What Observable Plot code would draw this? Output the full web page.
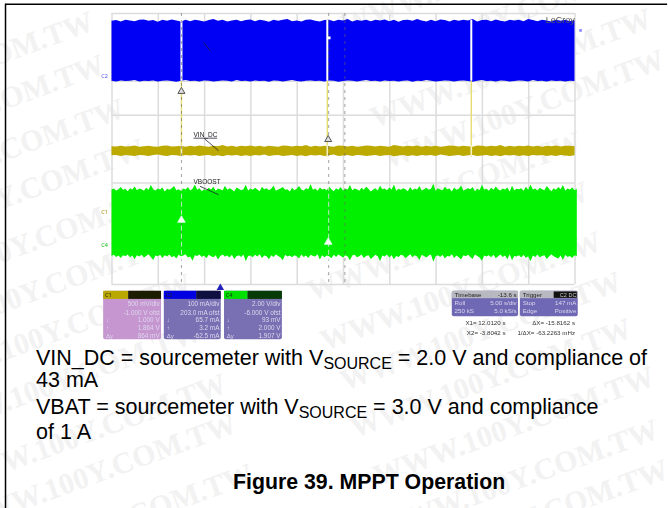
<!DOCTYPE html>
<html><head><meta charset="utf-8">
<script src="https://cdn.jsdelivr.net/npm/d3@7"></script>
<script src="https://cdn.jsdelivr.net/npm/@observablehq/plot@0.6"></script>
<style>
html,body{margin:0;padding:0;background:#fff}
#wrap{position:relative;width:668px;height:508px;overflow:hidden}
#wrap svg{position:absolute;left:0;top:0}
.cap{position:absolute;left:36px;font-family:"Liberation Sans",Arial,sans-serif;font-size:21.5px;color:#000;white-space:nowrap;line-height:24px}
.cap sub{font-size:16px;line-height:0;vertical-align:baseline;position:relative;top:4px}
.ttl{position:absolute;left:233px;top:470px;white-space:nowrap;font:bold 21.3px/24px "Liberation Sans",Arial,sans-serif;color:#000}
</style></head><body>
<div id="wrap"></div>
<script>
const blueTop=[.23,.21,.25,.2,.22,.24,.2,.19,.23,.21,.26,.2,.23,.19,.22,.25,.2,.24,.2,.22,.25,.21,.18,.23,.2,.25,.22,.2,.24,.21,.19,.24,.2,.22,.26,.2,.23,.2,.18,.24,.22,.25,.2,.19,.23,.25,.21,.2,.24,.2,.22,.18,.25,.21,.23,.2,.24,.2,.22,.19,.24,.2,.26,.21,.2,.23,.18,.22,.25,.2,.24,.19,.21,.25,.2,.23,.2,.22,.18,.25,.21,.2,.24,.19,.23,.25,.2,.22,.2,.24,.18,.21,.24,.2,.22,.25,.2,.23,.2,.24,.21];
const blueBot=[2,2.02,1.99,2.01,2,1.98,2.02,2,2.01,1.99,2.02,2,1.99,2.01,2.03,2,1.98,2.01,2,2.02,1.99,2,2.02,2.01,1.99,2,2.02,1.98,2.01,2,2.02,1.99,2.01,2,2.03,1.99,2,2.02,2,1.98,2.01,2.02,2,1.99,2.01,2,2.02,1.99,2,2.03,2.01,1.99,2,2.02,2,1.98,2.01,2,2.02,1.99,2.01,2,2.02,2,1.99,2.03,2,2.01,1.98,2,2.02,2.01,1.99,2,2.02,2,1.99,2.01,2.03,2,1.98,2.01,2,2.02,1.99,2,2.02,2.01,1.99,2,2.02,1.98,2.01,2,2.02,1.99,2.01,2,2.02,2,2.01];
const oliveTop=[3.93,3.94,3.92,3.94,3.93,3.91,3.95,3.93,3.92,3.94,3.95,3.92,3.91,3.94,3.93,3.92,3.95,3.92,3.94,3.91,3.93,3.95,3.92,3.93,3.9,3.94,3.92,3.95,3.92,3.93,3.91,3.94,3.92,3.95,3.92,3.93,3.95,3.91,3.92,3.94,3.92,3.93,3.9,3.95,3.92,3.94,3.92,3.93,3.95,3.91,3.92,3.94,3.92,3.95,3.93,3.91,3.92,3.94,3.92,3.93,3.95,3.9,3.92,3.94,3.92,3.93,3.91,3.95,3.92,3.94,3.92,3.95,3.93,3.91,3.92,3.94,3.92,3.93,3.95,3.91,3.92,3.94,3.92,3.93,3.9,3.95,3.92,3.94,3.92,3.93,3.91,3.94,3.92,3.95,3.92,3.93,3.91,3.94,3.92,3.92,3.93];
const oliveBot=[4.2,4.19,4.22,4.19,4.21,4.22,4.19,4.2,4.22,4.19,4.18,4.21,4.22,4.19,4.2,4.22,4.19,4.21,4.19,4.22,4.2,4.19,4.22,4.2,4.23,4.19,4.21,4.19,4.22,4.2,4.22,4.19,4.21,4.18,4.22,4.2,4.19,4.22,4.21,4.19,4.22,4.2,4.23,4.19,4.21,4.19,4.22,4.2,4.18,4.22,4.21,4.19,4.22,4.19,4.2,4.22,4.21,4.19,4.22,4.2,4.19,4.23,4.21,4.19,4.22,4.2,4.22,4.19,4.21,4.19,4.22,4.18,4.2,4.22,4.21,4.19,4.22,4.2,4.19,4.22,4.21,4.19,4.22,4.2,4.23,4.19,4.21,4.19,4.22,4.2,4.22,4.19,4.21,4.19,4.22,4.2,4.22,4.19,4.21,4.22,4.2];
const greenTop=[5.21,5.18,5.24,5.2,5.14,5.22,5.19,5.26,5.17,5.21,5.12,5.23,5.18,5.2,5.25,5.16,5.22,5.08,5.2,5.24,5.18,5.21,5.15,5.27,5.19,5.22,5.17,5.11,5.23,5.2,5.25,5.18,5.21,5.14,5.24,5.19,5.06,5.22,5.17,5.26,5.2,5.23,5.16,5.21,5.13,5.25,5.18,5.2,5.24,5.1,5.22,5.17,5.21,5.27,5.15,5.19,5.23,5.2,5.07,5.24,5.18,5.22,5.16,5.21,5.26,5.13,5.2,5.17,5.23,5.19,5.09,5.25,5.21,5.18,5.14,5.22,5.2,5.27,5.16,5.23,5.19,5.11,5.21,5.24,5.17,5.2,5.05,5.22,5.18,5.25,5.15,5.21,5.19,5.23,5.12,5.2,5.26,5.17,5.22,5.14,5.24,
5.19,5.21,5.08,5.23,5.18,5.2,5.25,5.16,5.22,5.13,5.19,5.27,5.21,5.17,5.24,5.1,5.2,5.18,5.23,5.15,5.21,5.06,5.25,5.19,5.22,5.17,5.2,5.26,5.14,5.23,5.18,5.21,5.11,5.24,5.2,5.16,5.22,5.19,5.04,5.25,5.17,5.21,5.23,5.13,5.2,5.18,5.27,5.15,5.22,5.19,5.09,5.24,5.21,5.17,5.2,5.14,5.26,5.18,5.23,5.07,5.21,5.19,5.25,5.16,5.22,5.12,5.2,5.24,5.18,5.21,5.15,5.27,5.1,5.23,5.19,5.2,5.17,5.25,5.13,5.22,5.06,5.21,5.18,5.24,5.16,5.2,5.23,5.11,5.19,5.26,5.17,5.22,5.14,5.2,5.08,5.24,5.18,5.21,5.15,5.23,5.19];
const greenBot=[7.17,7.14,7.2,7.16,7.23,7.15,7.18,7.13,7.21,7.16,7.27,7.15,7.19,7.14,7.22,7.17,7.12,7.2,7.29,7.16,7.18,7.14,7.23,7.15,7.19,7.13,7.21,7.17,7.25,7.14,7.18,7.16,7.12,7.22,7.19,7.31,7.15,7.17,7.13,7.2,7.16,7.24,7.14,7.18,7.21,7.15,7.28,7.17,7.13,7.19,7.16,7.22,7.14,7.26,7.18,7.15,7.2,7.13,7.33,7.17,7.16,7.21,7.14,7.19,7.12,7.23,7.16,7.18,7.27,7.15,7.2,7.13,7.17,7.22,7.3,7.14,7.19,7.16,7.21,7.15,7.18,7.25,7.13,7.2,7.16,7.23,7.14,7.17,7.19,7.12,7.28,7.15,7.21,7.16,7.18,7.24,7.14,7.2,7.13,7.17,7.22,
7.15,7.19,7.3,7.16,7.14,7.21,7.18,7.13,7.23,7.17,7.15,7.26,7.2,7.14,7.18,7.32,7.16,7.19,7.13,7.22,7.15,7.27,7.17,7.2,7.14,7.16,7.24,7.18,7.12,7.21,7.15,7.19,7.29,7.14,7.17,7.22,7.16,7.13,7.34,7.18,7.15,7.2,7.14,7.25,7.17,7.19,7.12,7.23,7.16,7.21,7.28,7.15,7.18,7.14,7.2,7.26,7.13,7.17,7.22,7.31,7.16,7.19,7.15,7.21,7.14,7.24,7.18,7.13,7.2,7.16,7.27,7.12,7.3,7.17,7.19,7.15,7.22,7.14,7.23,7.18,7.33,7.16,7.2,7.13,7.21,7.17,7.15,7.26,7.19,7.12,7.18,7.22,7.25,7.16,7.29,7.14,7.2,7.17,7.23,7.15,7.18];
const coarse=blueTop.map((_,i)=>i);
const fine=greenTop.map((_,i)=>i);
const gridXs=[0,1,2,3,4,5,6,7,8,9,10];
const gridYs=[0,1,2,3,4,5,6,7,8];
const eventXs=[1.5,4.65,7.76];
const cursorXs=[1.5,4.68,5.03];
// scope readouts
const panelNames=["C1","C2","C4"];
const panelVals=[
 ["500 mV/div","-1.000 V ofst","1.000 V","1.864 V","864 mV"],
 ["100 mA/div","203.0 mA ofst","65.7 mA","3.2 mA","-62.5 mA"],
 ["2.00 V/div","-6.000 V ofst","93 mV","2.000 V","1.907 V"]];
const rowLabels=["","","↓","↑","Δy"];
const tbLeft=["Roll","250 kS"], tbRight=["5.00 s/div","5.0 kS/s"];
const trLeft=["Stop","Edge"], trRight=["147 mA","Positive"];
const cursorA=["X1= 12.0120 s","X2= -3.8042 s"], cursorB=["ΔX= -15.8162 s","1/ΔX= -63.2263 mHz"];
const captionLines=[
 'VIN_DC = sourcemeter with V<sub>SOURCE</sub> = 2.0 V and compliance of',
 '43 mA',
 'VBAT = sourcemeter with V<sub>SOURCE</sub> = 3.0 V and compliance',
 'of 1 A'];
const figureTitle="Figure 39. MPPT Operation";
const watermark="WWW.100Y.COM.TW";
const wmEndX=[650,663,580,587,600,620,630,653,657,667,680, 620,640, 92,103,123,143,158,168,190,200,225,235,252,262];
const wmEndY=[17,58,140,190,240,280,327,375,428,468,518, -76,-33, 20,63,107,147,195,242,282,330,382,422,472,518];

const soft={imageFilter:"blur(0.7px)"};
const softer={imageFilter:"blur(0.45px)"};
const toDivX=p=>(p-111.5)/46.3, toDivY=p=>(p-13)/33.875;
const panels=[
 {x1:-.18,x2:1.07,head:.36,body:"#c596cf",hc:"#b8a800",dc:"#1c1c00"},
 {x1:1.13,x2:2.36,head:1.83,body:"#7870b2",hc:"#0000e0",dc:"#101040"},
 {x1:2.43,x2:3.68,head:2.94,body:"#7870b2",hc:"#00e000",dc:"#063a06"}];
const rowYs=[8.58,8.83,9.05,9.28,9.51];
const panelText=panels.flatMap((p,i)=>panelVals[i].map((t,r)=>({x:p.x2-.04,y:rowYs[r],t})));
const panelLabels=panels.flatMap((p,i)=>rowLabels.map((t,r)=>({x:p.x1+.05,y:rowYs[r],t})));
const ty=[8.55,8.78];

const svg=Plot.plot({
 width:668,height:508,margin:0,
 x:{domain:[0,10],range:[111.5,574.5],axis:null},
 y:{domain:[0,8],range:[13,284],axis:null},
 marks:[
  Plot.text(wmEndX,{x:(d)=>toDivX(d),y:(d,i)=>toDivY(wmEndY[i]),text:()=>watermark,textAnchor:"end",rotate:-20,fontFamily:"Liberation Serif",fontWeight:"bold",fontSize:30,fill:"#f2f2f2"}),
  Plot.ruleY([-.27],{x1:-2.3,x2:12,stroke:"#000",strokeWidth:1.5}),
  Plot.ruleX([-2.3],{y1:-.27,y2:15,stroke:"#000",strokeWidth:1.5}),
  Plot.ruleX(gridXs,{y1:0,y2:8,stroke:"#dcdcdc",strokeWidth:1.5,...soft}),
  Plot.ruleY(gridYs,{x1:0,x2:10,stroke:"#dcdcdc",strokeWidth:1.5,...soft}),
  Plot.areaY(coarse,{x:i=>i/10,y1:i=>blueBot[i],y2:i=>blueTop[i],fill:"#0000f4",...soft}),
  Plot.areaY(coarse,{x:i=>i/10,y1:i=>oliveBot[i],y2:i=>oliveTop[i],fill:"#bcaa00",...soft}),
  Plot.areaY(fine,{x:i=>i/20,y1:i=>greenBot[i],y2:i=>greenTop[i],fill:"#00f000",...soft}),
  Plot.ruleX(eventXs,{y1:0.2,y2:2,stroke:"#fff",strokeWidth:2,...soft}),
  Plot.ruleX(eventXs,{y1:2,y2:3.95,stroke:"#e6de70",strokeWidth:1.4,...soft}),
  Plot.ruleX(eventXs,{y1:3.9,y2:4.25,stroke:"#f4f0c0",strokeWidth:1.6,...soft}),
  Plot.ruleX(cursorXs,{y1:0,y2:8,stroke:"#666",strokeWidth:1,strokeDasharray:"3,4",strokeOpacity:.6,...soft}),
  Plot.ruleX(cursorXs.slice(0,2),{y1:5.1,y2:7.3,stroke:"#fff",strokeWidth:1,strokeDasharray:"5,3",strokeOpacity:.7,...soft}),
  Plot.dot([{x:1.5,y:2.3},{x:4.67,y:3.72}],{x:"x",y:"y",symbol:"triangle",r:2.6,fill:"#ddd",stroke:"#555",strokeWidth:1,...soft}),
  Plot.dot([{x:1.5,y:6.1},{x:4.67,y:6.75}],{x:"x",y:"y",symbol:"triangle",r:2.8,fill:"#fff",stroke:"#dfe",strokeWidth:.8,...soft}),
  Plot.dot([{x:4.69,y:.72}],{x:"x",y:"y",symbol:"square",r:1.6,fill:"#fff",...soft}),
  Plot.text([{x:1.76,y:3.59,t:"VIN_DC"},{x:1.76,y:4.97,t:"VBOOST"}],{x:"x",y:"y",text:"t",fontSize:6.5,fill:"#222",textAnchor:"start",fontFamily:"Liberation Sans",...soft}),
  Plot.link([{x1:1.76,y1:3.68,x2:2.27,y2:3.68},{x1:2,y1:3.7,x2:2.3,y2:4.05},{x1:1.9,y1:5.1,x2:2.3,y2:5.35},{x1:1.98,y1:.85,x2:2.12,y2:1.1}],{x1:"x1",y1:"y1",x2:"x2",y2:"y2",stroke:"#223",strokeWidth:.8,...soft}),
  Plot.text(["LeCroy"],{x:9.68,y:.19,text:d=>d,fontSize:9,fill:"#555",fontFamily:"Liberation Sans",...soft}),
  Plot.text(["C2"],{x:-.16,y:1.84,text:d=>d,fontSize:5.5,fill:"#5555ee",...soft}),
  Plot.text(["C1"],{x:-.16,y:5.87,text:d=>d,fontSize:5.5,fill:"#998800",...soft}),
  Plot.text(["C4"],{x:-.16,y:6.83,text:d=>d,fontSize:5.5,fill:"#00bb00",...soft}),
  Plot.dot([{x:10.12,y:.5}],{x:"x",y:"y",symbol:"square",r:1.5,fill:"#8888ff",...soft}),
  Plot.dot([{x:2.34,y:8.1}],{x:"x",y:"y",symbol:"triangle",r:2.8,fill:"#2222bb",...soft}),
  Plot.rect(panels,{x1:"x1",x2:"x2",y1:8.2,y2:9.63,fill:"body",rx:2,...soft}),
  Plot.rect(panels,{x1:"x1",x2:"head",y1:8.2,y2:8.44,fill:"hc",...soft}),
  Plot.rect(panels,{x1:"head",x2:"x2",y1:8.2,y2:8.44,fill:"dc",...soft}),
  Plot.text(panelNames,{x:(d,i)=>panels[i].x1+.1,y:8.32,text:d=>d,fontSize:5.5,fill:"#222",...soft}),
  Plot.text(panelText,{x:"x",y:"y",text:"t",textAnchor:"end",fontSize:6.4,fill:"#ddd8ee",fontFamily:"Liberation Sans",...soft}),
  Plot.text(panelLabels,{x:"x",y:"y",text:"t",textAnchor:"start",fontSize:6,fill:"#ddd8ee",fontFamily:"Liberation Sans",...soft}),
  Plot.rect([{a:7.35,b:8.78},{a:8.82,b:10.07}],{x1:"a",x2:"b",y1:8.2,y2:8.95,fill:"#6f68b4",rx:2,...soft}),
  Plot.rect([{a:7.35,b:8.78},{a:8.82,b:10.07}],{x1:"a",x2:"b",y1:8.2,y2:8.42,fill:"#b8b8c0",...soft}),
  Plot.rect([{a:9.55,b:10.05}],{x1:"a",x2:"b",y1:8.22,y2:8.41,fill:"#111",...soft}),
  Plot.text(["Timebase"],{x:7.4,y:8.31,text:d=>d,textAnchor:"start",fontSize:6.2,fill:"#222",fontFamily:"Liberation Sans",...soft}),
  Plot.text(["-13.6 s"],{x:8.74,y:8.31,text:d=>d,textAnchor:"end",fontSize:6.2,fill:"#222",fontFamily:"Liberation Sans",...soft}),
  Plot.text(["Trigger"],{x:8.87,y:8.31,text:d=>d,textAnchor:"start",fontSize:6.2,fill:"#222",fontFamily:"Liberation Sans",...soft}),
  Plot.text(["C2 DC"],{x:10.03,y:8.31,text:d=>d,textAnchor:"end",fontSize:5.5,fill:"#ccc",fontFamily:"Liberation Sans",...soft}),
  Plot.text(tbLeft,{x:7.4,y:(d,i)=>ty[i],text:d=>d,textAnchor:"start",fontSize:6.2,fill:"#ddd8ee",fontFamily:"Liberation Sans",...soft}),
  Plot.text(tbRight,{x:8.74,y:(d,i)=>ty[i],text:d=>d,textAnchor:"end",fontSize:6.2,fill:"#ddd8ee",fontFamily:"Liberation Sans",...soft}),
  Plot.text(trLeft,{x:8.87,y:(d,i)=>ty[i],text:d=>d,textAnchor:"start",fontSize:6.2,fill:"#ddd8ee",fontFamily:"Liberation Sans",...soft}),
  Plot.text(trRight,{x:10.03,y:(d,i)=>ty[i],text:d=>d,textAnchor:"end",fontSize:6.2,fill:"#ddd8ee",fontFamily:"Liberation Sans",...soft}),
  Plot.text(cursorA,{x:8.5,y:(d,i)=>[9.14,9.42][i],text:d=>d,textAnchor:"end",fontSize:6.2,fill:"#333",fontFamily:"Liberation Sans",...softer}),
  Plot.text(cursorB,{x:10.0,y:(d,i)=>[9.14,9.42][i],text:d=>d,textAnchor:"end",fontSize:6.2,fill:"#333",fontFamily:"Liberation Sans",...softer})
 ]
});
const wrap=document.getElementById("wrap");
wrap.appendChild(svg);
const tops=[346,368,395,420];
captionLines.forEach((h,i)=>{const d=document.createElement("div");d.className="cap";d.style.top=tops[i]+"px";d.innerHTML=h;wrap.appendChild(d);});
const t=document.createElement("div");t.className="ttl";t.textContent=figureTitle;wrap.appendChild(t);
</script>
</body></html>
